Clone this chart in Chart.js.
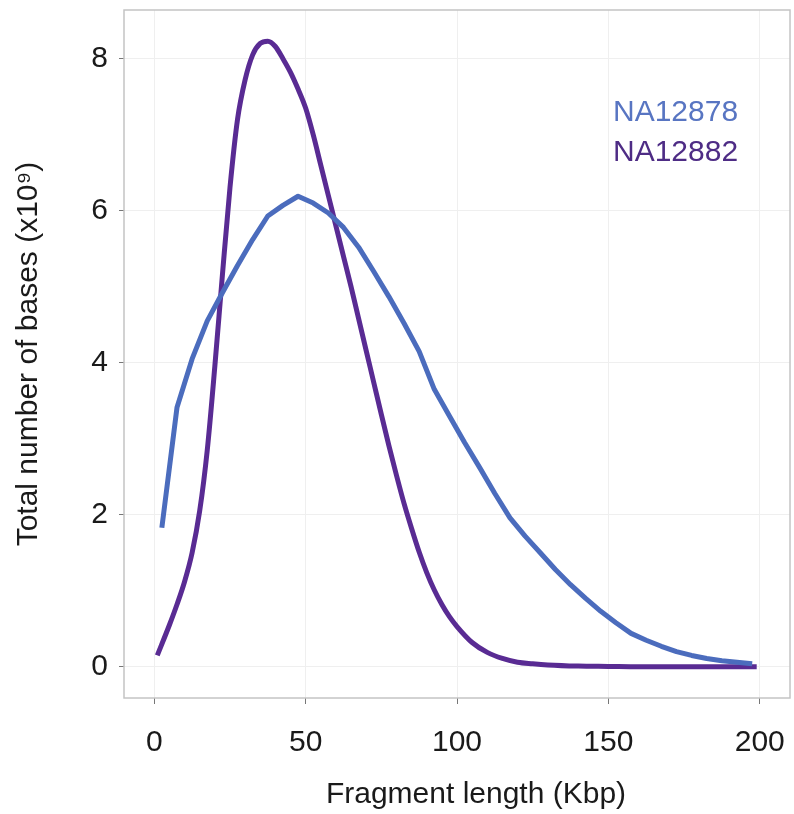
<!DOCTYPE html>
<html>
<head>
<meta charset="utf-8">
<script src="https://cdn.jsdelivr.net/npm/chart.js@4/dist/chart.umd.min.js"></script>
<style>
  html, body { margin: 0; padding: 0; background: #ffffff; }
  #wrap { width: 794px; height: 814px; }
</style>
</head>
<body>
<div id="wrap"><canvas id="c" width="794" height="814"></canvas></div>
<script>
// ---- data ----
const seriesNames = ["NA12878", "NA12882"];

const na12878X = [2.5, 7.5, 12.5, 17.5, 22.5, 27.5, 32.5, 37.5, 42.5, 47.5,
  52.5, 57.5, 62.5, 67.5, 72.5, 77.5, 82.5, 87.5, 92.5, 97.5,
  102.5, 107.5, 112.5, 117.5, 122.5, 127.5, 132.5, 137.5, 142.5, 147.5,
  152.5, 157.5, 162.5, 167.5, 172.5, 177.5, 182.5, 187.5, 192.5, 197.5];
const na12878Y = [1.83, 3.41, 4.05, 4.55, 4.92, 5.28, 5.62, 5.93, 6.07, 6.19,
  6.10, 5.97, 5.78, 5.52, 5.20, 4.87, 4.52, 4.15, 3.65, 3.30,
  2.95, 2.62, 2.28, 1.96, 1.72, 1.50, 1.28, 1.08, 0.90, 0.73,
  0.58, 0.44, 0.35, 0.27, 0.20, 0.15, 0.11, 0.08, 0.06, 0.04];

const na12882X = [1, 5, 7.5, 10, 12.5, 15, 17.5, 20, 22.5, 25, 27.5, 30, 32.5, 35,
  37.5, 40, 42.5, 45, 47.5, 50, 52.5, 55, 57.5, 60, 62.5, 65, 67.5, 70, 72.5,
  75, 77.5, 80, 82.5, 85, 87.5, 90, 92.5, 95, 97.5, 100, 105, 110, 115, 120,
  125, 130, 140, 150, 160, 170, 180, 190, 199];
const na12882Y = [0.15, 0.55, 0.82, 1.12, 1.5, 2.05, 2.85, 3.95, 5.15, 6.3, 7.2, 7.72, 8.05, 8.2,
  8.23, 8.16, 8.0, 7.82, 7.6, 7.35, 7.0, 6.6, 6.2, 5.8, 5.4, 5.0, 4.58, 4.16, 3.74,
  3.32, 2.91, 2.52, 2.15, 1.82, 1.51, 1.24, 1.01, 0.82, 0.66, 0.53, 0.32, 0.19, 0.11, 0.06,
  0.04, 0.025, 0.01, 0.005, 0, 0, 0, 0, 0];

const xTickValues = [0, 50, 100, 150, 200];
const yTickValues = [0, 2, 4, 6, 8];
const xTitle = "Fragment length (Kbp)";
const yTitle = "Total number of bases (x10\u2079)";

// ---- styling ----
const blue = "#4B6CBD";
const purple = "#592B93";
const blueText = "#5875C2";
const purpleText = "#4E2C85";
const FONT = "'Liberation Sans', Arial, Helvetica, sans-serif";

function pts(xs, ys) { return xs.map((x, i) => ({ x: x, y: ys[i] })); }
function noPad(scale) {
  scale.paddingTop = 0; scale.paddingBottom = 0;
  scale.paddingLeft = 0; scale.paddingRight = 0;
}

const boxPlugin = {
  id: 'box',
  afterDraw(chart) {
    const { ctx, chartArea: a } = chart;
    ctx.save();
    ctx.strokeStyle = '#c4c4c4';
    ctx.lineWidth = 1.5;
    ctx.strokeRect(a.left, a.top, a.right - a.left, a.bottom - a.top);
    ctx.restore();
  }
};

const textPlugin = {
  id: 'texts',
  afterDatasetsDraw(chart) {
    const { ctx, chartArea: a } = chart;
    ctx.save();
    ctx.font = "30px " + FONT;
    ctx.textAlign = 'left';
    ctx.textBaseline = 'alphabetic';
    const colors = [blueText, purpleText];
    seriesNames.forEach((name, i) => {
      ctx.fillStyle = colors[i];
      ctx.fillText(name, a.left + 489, a.top + 111 + i * 40);
    });
    // x axis title
    ctx.fillStyle = '#1a1a1a';
    ctx.textAlign = 'center';
    ctx.textBaseline = 'middle';
    ctx.fillText(xTitle, (a.left + a.right) / 2 + 19, 795);
    ctx.restore();
  }
};

const ctx = document.getElementById('c').getContext('2d');
new Chart(ctx, {
  type: 'scatter',
  data: {
    datasets: [
      {
        label: seriesNames[0],
        data: pts(na12878X, na12878Y),
        showLine: true,
        borderColor: blue,
        backgroundColor: blue,
        borderWidth: 5,
        pointRadius: 0,
        tension: 0,
        borderJoinStyle: 'round'
      },
      {
        label: seriesNames[1],
        data: pts(na12882X, na12882Y),
        showLine: true,
        borderColor: purple,
        backgroundColor: purple,
        borderWidth: 5,
        pointRadius: 0,
        cubicInterpolationMode: 'monotone',
        borderJoinStyle: 'round'
      }
    ]
  },
  options: {
    responsive: false,
    animation: false,
    events: [],
    layout: { padding: { top: 10, right: 4, left: 0, bottom: 0 } },
    plugins: { legend: { display: false }, tooltip: { enabled: false } },
    scales: {
      x: {
        type: 'linear',
        min: -10,
        max: 210,
        afterFit(scale) { scale.height = 116; noPad(scale); },
        afterBuildTicks(scale) { scale.ticks = xTickValues.map(v => ({ value: v })); },
        ticks: { font: { family: FONT, size: 30 }, color: '#1a1a1a', padding: 21, maxRotation: 0 },
        grid: { color: '#efefef', lineWidth: 1, tickLength: 6, tickColor: '#777', drawTicks: true },
        border: { display: false },
        title: { display: false, text: xTitle }
      },
      y: {
        type: 'linear',
        min: -0.41,
        max: 8.64,
        afterFit(scale) { scale.width = 124; noPad(scale); },
        afterBuildTicks(scale) { scale.ticks = yTickValues.map(v => ({ value: v })); },
        ticks: { font: { family: FONT, size: 30 }, color: '#1a1a1a', padding: 11 },
        grid: { color: '#efefef', lineWidth: 1, tickLength: 5, tickColor: '#777', drawTicks: true },
        border: { display: false },
        title: { display: true, text: yTitle, font: { family: FONT, size: 30 }, color: '#1a1a1a', padding: { top: 11, bottom: 0 } }
      }
    }
  },
  plugins: [boxPlugin, textPlugin]
});
</script>
</body>
</html>
